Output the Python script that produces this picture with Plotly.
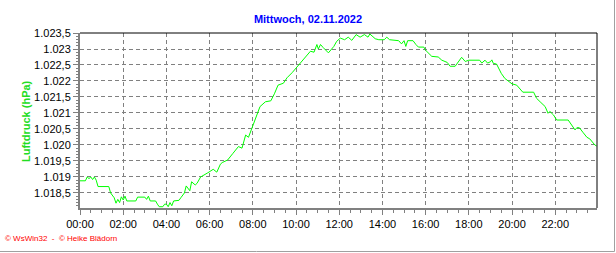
import plotly.graph_objects as go

# ---- data ----
times = ["00:00","00:15","00:20","00:25","00:30","00:35","00:40","00:45","00:50","01:20",
         "01:25","01:35","01:40","01:45","01:50","01:55","02:00","02:05","02:10","02:35",
         "02:40","03:00","03:05","03:10","03:15","03:30","03:35","03:40","03:50","03:55",
         "04:00","04:05","04:10","04:15","04:20","04:35","04:40","04:50","04:55","05:05",
         "05:10","05:20","05:25","05:35","05:55","06:10","06:20","06:30","06:35","06:50",
         "07:05","07:20","07:30","07:40","07:48","08:00","08:20","08:35","08:50","09:00",
         "09:10","09:25","09:35","09:50","10:10","10:25","10:40","10:50","10:58","11:02",
         "11:08","11:15","11:30","11:45","11:53","12:03","12:15","12:25","12:35","12:47",
         "12:58","13:10","13:20","13:25","13:40","13:50","14:05","14:12","14:20","14:45",
         "14:53","15:00","15:05","15:10","15:25","15:33","15:40","15:55","16:00","16:17",
         "16:35","16:45","17:00","17:08","17:22","17:40","17:50","18:00","18:30","18:36",
         "18:45","18:52","19:00","19:04","19:08","19:17","19:30","19:40","20:00","20:13",
         "20:22","20:30","21:00","21:08","21:18","21:32","21:40","21:45","21:55","22:04",
         "22:36","22:45","22:55","23:00","23:07","23:18","23:28","23:36","23:50","23:55"]
pressure = [1018.88,1018.88,1019.0,1018.95,1019.0,1018.92,1019.0,1018.9,1018.7,1018.7,
            1018.5,1018.35,1018.18,1018.3,1018.2,1018.38,1018.28,1018.4,1018.25,1018.25,
            1018.37,1018.37,1018.3,1018.4,1018.25,1018.25,1018.15,1018.07,1018.07,1018.15,
            1018.15,1018.07,1018.2,1018.1,1018.25,1018.27,1018.35,1018.5,1018.72,1018.57,
            1018.85,1018.75,1018.8,1019.0,1019.13,1019.24,1019.15,1019.4,1019.45,1019.53,
            1019.74,1019.95,1019.9,1020.31,1020.24,1020.6,1021.2,1021.35,1021.38,1021.6,
            1021.87,1021.93,1022.1,1022.27,1022.53,1022.7,1022.93,1022.9,1023.14,1023.0,
            1023.14,1023.05,1022.88,1023.08,1023.24,1023.34,1023.29,1023.37,1023.27,1023.45,
            1023.37,1023.45,1023.37,1023.47,1023.32,1023.29,1023.29,1023.37,1023.29,1023.26,
            1023.16,1023.26,1023.08,1023.26,1023.26,1023.14,1023.06,1023.06,1022.96,1022.77,
            1022.75,1022.65,1022.58,1022.46,1022.46,1022.74,1022.61,1022.65,1022.65,1022.56,
            1022.65,1022.56,1022.6,1022.66,1022.55,1022.53,1022.24,1022.08,1021.91,1021.87,
            1021.77,1021.65,1021.65,1021.46,1021.35,1021.2,1020.99,1021.05,1020.94,1020.78,
            1020.78,1020.62,1020.47,1020.54,1020.54,1020.38,1020.24,1020.19,1020.0,1019.97]
date = "2022-11-02"
y_tickvals = [1018.5, 1019.0, 1019.5, 1020.0, 1020.5, 1021.0, 1021.5, 1022.0, 1022.5, 1023.0, 1023.5]
y_ticktext = ["1.018,5", "1.019", "1.019,5", "1.020", "1.020,5", "1.021", "1.021,5",
              "1.022", "1.022,5", "1.023", "1.023,5"]
title_text = "Mittwoch, 02.11.2022"
y_title = "Luftdruck (hPa)"
footer = "© WsWin32  -  © Heike Blädorn"

x = [f"{date} {t}" for t in times]

fig = go.Figure()
fig.add_trace(go.Scatter(x=x, y=pressure, mode="lines",
                         line=dict(color="#00ff00", width=1), hoverinfo="skip"))

W, H = 616, 253
L, R, T, B = 80, 19, 33, 45
pw, ph = W - L - R, H - T - B

def px_x(p):
    return (p - L) / pw

def px_y(p):
    return (H - B - p) / ph

font = "Liberation Sans, Arial, sans-serif"

fig.update_layout(
    width=W, height=H,
    margin=dict(l=L, r=R, t=T, b=B),
    paper_bgcolor="white", plot_bgcolor="white",
    showlegend=False,
    font=dict(family=font, size=11, color="black"),
    title=dict(text=f"<b>{title_text}</b>", x=0.5, xref="container", xanchor="center",
               y=1 - 19 / H, yanchor="middle", yref="container",
               font=dict(family=font, size=11, color="#0000ff")),
)
fig.update_xaxes(
    type="date",
    range=[f"{date} 00:00", f"{date} 23:56"],
    dtick=7200000, tick0=f"{date} 00:00", tickformat="%H:%M",
    showgrid=True, gridcolor="#808080", gridwidth=1, griddash="4px,3px",
    showline=True, linecolor="#808080", linewidth=2,
    ticks="outside", ticklen=5, tickcolor="#808080", tickwidth=1,
    minor=dict(dtick=1800000, ticks="outside", ticklen=3, tickcolor="#808080", showgrid=False),
    tickfont=dict(family=font, size=11, color="black"),
    zeroline=False, fixedrange=True,
)
fig.update_yaxes(
    range=[1018.03, 1023.5],
    tickvals=y_tickvals, ticktext=y_ticktext,
    showgrid=True, gridcolor="#808080", gridwidth=1, griddash="4px,3px",
    showline=True, linecolor="#808080", linewidth=2,
    ticks="outside", ticklen=5, tickcolor="#808080", tickwidth=1,
    minor=dict(dtick=0.1, tick0=1018.0, ticks="outside", ticklen=2, tickcolor="#808080", showgrid=False),
    tickfont=dict(family=font, size=11, color="black"),
    zeroline=False, fixedrange=True,
)

# top / right frame lines (black) and outer gray border
fig.add_shape(type="line", xref="paper", yref="paper", x0=0, x1=1, y0=1, y1=1,
              line=dict(color="black", width=1))
fig.add_shape(type="line", xref="paper", yref="paper", x0=1, x1=1, y0=0, y1=1,
              line=dict(color="black", width=1))
fig.add_shape(type="line", xref="paper", yref="paper", x0=px_x(614.5), x1=px_x(614.5),
              y0=px_y(0), y1=px_y(251.5), line=dict(color="#a0a0a0", width=1))
fig.add_shape(type="line", xref="paper", yref="paper", x0=px_x(0), x1=px_x(614.5),
              y0=px_y(251.5), y1=px_y(251.5), line=dict(color="#a0a0a0", width=1))

fig.add_annotation(text=f"<b>{y_title}</b>", textangle=-90, showarrow=False,
                   xref="paper", yref="paper", x=px_x(26), y=px_y(121),
                   xanchor="center", yanchor="middle",
                   font=dict(family=font, size=11, color="#22dd22"))
fig.add_annotation(text=footer, showarrow=False, xref="paper", yref="paper",
                   x=px_x(3), y=px_y(238), xanchor="left", yanchor="middle",
                   font=dict(family=font, size=8, color="#ff0000"))

fig.write_html("out.html")
